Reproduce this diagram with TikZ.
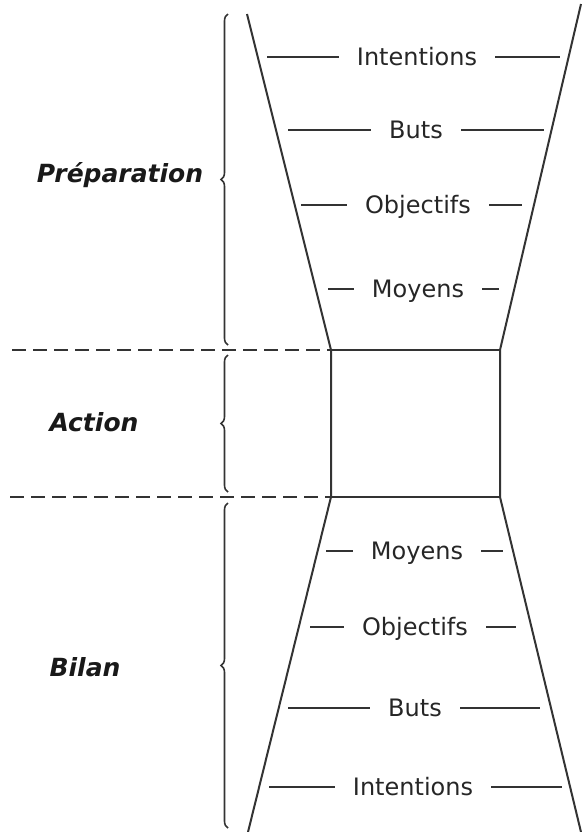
\documentclass[tikz,border=0pt]{standalone}
\usepackage{fontspec}
\setmainfont{DejaVu Sans}
\usepackage{tikz}
\usetikzlibrary{decorations.pathreplacing}
\tikzstyle{etape} = [font=\fontsize{12}{14}\selectfont, text=black!85, inner xsep=9pt, inner ysep=1pt, text height=8.8pt, text depth=0pt]
\tikzstyle{phase} = [font=\fontsize{12.5}{15}\selectfont\bfseries\itshape, text=black!90]
\tikzstyle{bord} = [line width=1pt, draw=black!80]
\tikzstyle{trait} = [line width=1pt, draw=black!80]
\tikzstyle{limite} = [line width=1pt, draw=black!80, dash pattern=on 7pt off 3.5pt]
\tikzstyle{accolade} = [draw=black!80, line width=0.8pt, decorate, decoration={brace, amplitude=3.5pt}]

\begin{document}
\begin{tikzpicture}[x=0.5pt, y=-0.5pt]
        \useasboundingbox (0,0) rectangle (582,832);

        % 漏斗的角点
        \coordinate (tl) at (247,14);
        \coordinate (tr) at (581,4);
        \coordinate (ml1) at (331,350);
        \coordinate (mr1) at (500,350);
        \coordinate (ml2) at (331,497);
        \coordinate (mr2) at (500,497);
        \coordinate (bl) at (248,832);
        \coordinate (br) at (581,832);

        % 漏斗与中间方框
        \draw [bord] (tl) -- (ml1) -- (ml2) -- (bl);
        \draw [bord] (tr) -- (mr1) -- (mr2) -- (br);
        \draw [bord] (ml1) -- (mr1);
        \draw [bord] (ml2) -- (mr2);

        % 阶段分界虚线
        \coordinate (d1) at (12,350);
        \coordinate (d2) at (10,497);
        \draw [limite] (d1) -- (ml1);
        \draw [limite] (d2) -- (ml2);

        % 左侧阶段名称
        \node [phase] (prep) at (120,175) {Préparation};
        \node [phase] (act) at (94,422) {Action};
        \node [phase] (bil) at (85,667) {Bilan};

        % 花括号
        \draw [accolade] (228,345) -- (228,14);
        \draw [accolade] (228,492) -- (228,355);
        \draw [accolade] (228,828) -- (228,503);

        % 上半部分
        \node [etape] (int1) at (417,57) {Intentions};
        \node [etape] (but1) at (416,130) {Buts};
        \node [etape] (obj1) at (418,205) {Objectifs};
        \node [etape] (moy1) at (418,289) {Moyens};

        \draw [trait] (267,0 |- int1.west) -- (int1.west);
        \draw [trait] (int1.east) -- (560,0 |- int1.east);
        \draw [trait] (288,0 |- but1.west) -- (but1.west);
        \draw [trait] (but1.east) -- (544,0 |- but1.east);
        \draw [trait] (301,0 |- obj1.west) -- (obj1.west);
        \draw [trait] (obj1.east) -- (522,0 |- obj1.east);
        \draw [trait] (328,0 |- moy1.west) -- (moy1.west);
        \draw [trait] (moy1.east) -- (499,0 |- moy1.east);

        % 下半部分
        \node [etape] (moy2) at (417,551) {Moyens};
        \node [etape] (obj2) at (415,627) {Objectifs};
        \node [etape] (but2) at (415,708) {Buts};
        \node [etape] (int2) at (413,787) {Intentions};

        \draw [trait] (326,0 |- moy2.west) -- (moy2.west);
        \draw [trait] (moy2.east) -- (503,0 |- moy2.east);
        \draw [trait] (310,0 |- obj2.west) -- (obj2.west);
        \draw [trait] (obj2.east) -- (516,0 |- obj2.east);
        \draw [trait] (288,0 |- but2.west) -- (but2.west);
        \draw [trait] (but2.east) -- (540,0 |- but2.east);
        \draw [trait] (269,0 |- int2.west) -- (int2.west);
        \draw [trait] (int2.east) -- (562,0 |- int2.east);
\end{tikzpicture}
\end{document}
